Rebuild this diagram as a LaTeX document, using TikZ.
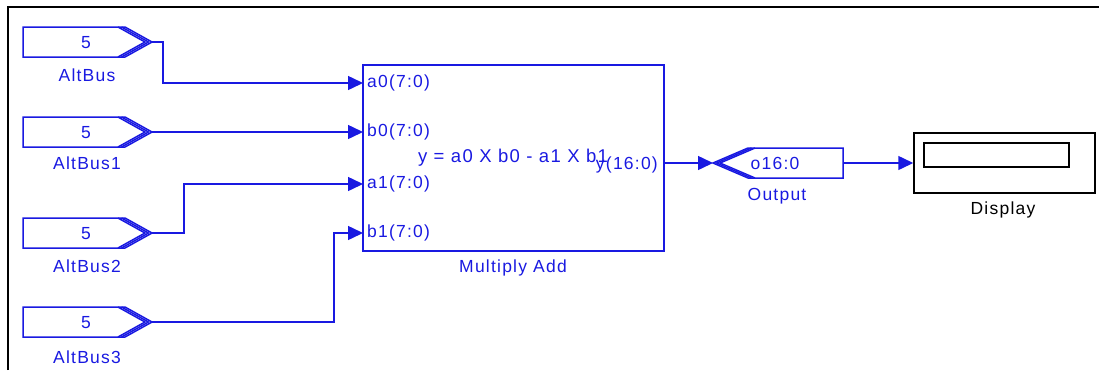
\documentclass[tikz,border=0pt]{standalone}
\usepackage{fontspec}
\setmainfont[LetterSpace=7]{Liberation Sans}
\usetikzlibrary{arrows.meta}
\definecolor{sb}{RGB}{25,25,225}
\tikzset{
  bl/.style={draw=sb, line width=1.5pt, line join=miter},
  wire/.style={draw=sb, line width=1.5pt, -{Triangle[length=15pt,width=14pt]}},
  txt/.style={font=\fontsize{17.5}{20}\selectfont, text=sb, inner sep=0pt},
  btxt/.style={font=\fontsize{17.5}{20}\selectfont, text=black, inner sep=0pt},
  busin/.pic={
    \draw[bl] (0,-15) -- (102,-15) -- (129,0) -- (102,15) -- (0,15) -- cycle;
    \draw[bl] (95,-15) -- (122,0) -- (95,15);
    \draw[bl] (98.5,-15) -- (125.5,0) -- (98.5,15);
    \coordinate (-tip) at (129,0);
    \node[txt] (-val) at (63,1) {5};
  },
  busout/.pic={
    \draw[bl] (0,-15) -- (-95,-15) -- (-130,0) -- (-95,15) -- (0,15) -- cycle;
    \draw[bl] (-88,-15) -- (-123,0) -- (-88,15);
    \draw[bl] (-91.5,-15) -- (-126.5,0) -- (-91.5,15);
    \coordinate (-tip) at (-130,0);
    \coordinate (-right) at (0,0);
    \node[txt] (-val) at (-68,0) {o16:0};
  }
}
\begin{document}
\begin{tikzpicture}[x=1pt,y=-1pt]
\useasboundingbox (0,0) rectangle (1099,370);
\draw[line width=2.5pt] (8,370) -- (8,7) -- (1099,7);

% input buses
\pic (b0) at (23,42) {busin};
\pic (b1) at (23,132) {busin};
\pic (b2) at (23,233) {busin};
\pic (b3) at (23,322) {busin};
\node[txt] (l0) at (87,75) {AltBus};
\node[txt] (l1) at (87,163) {AltBus1};
\node[txt] (l2) at (87,266) {AltBus2};
\node[txt] (l3) at (87,357) {AltBus3};

% multiply add block
\node[bl, minimum width=301pt, minimum height=186pt, inner sep=0pt] (ma) at (513.5,158) {};
\coordinate (pa0) at (363,83);
\coordinate (pb0) at (363,132);
\coordinate (pa1) at (363,184);
\coordinate (pb1) at (363,233);
\coordinate (py) at (664,163);
\node[txt, anchor=west] (ta0) at (367,83) {a0(7:0)};
\node[txt, anchor=west] (tb0) at (367,132) {b0(7:0)};
\node[txt, anchor=west] (ta1) at (367,184) {a1(7:0)};
\node[txt, anchor=west] (tb1) at (367,233) {b1(7:0)};
\node[txt, font=\fontsize{18.5}{20}\selectfont] (eq) at (513,158) {y = a0 X b0 - a1 X b1};
\node[txt, anchor=east] (ty) at (658,165) {y(16:0)};
\node[txt] (lma) at (513,268) {Multiply Add};

% output
\pic (out) at (843,163) {busout};
\node[txt] (lout) at (777,196) {Output};

% display
\node[draw=black, line width=1.5pt, minimum width=181pt, minimum height=60pt, inner sep=0pt] (disp) at (1004.5,163) {};
\node[draw=black, line width=1.5pt, minimum width=145pt, minimum height=24pt, inner sep=0pt] (dispin) at (996.5,155) {};
\node[btxt] (ldisp) at (1003,210) {Display};

% wires
\draw[wire] (b0-tip) -- ++(11,0) |- (pa0);
\draw[wire] (b1-tip) -- (pb0);
\draw[wire] (b2-tip) -- ++(32,0) |- (pa1);
\draw[wire] (b3-tip) -- ++(182,0) |- (pb1);
\draw[wire] (py) -- (out-tip);
\draw[wire] (out-right) -- (disp.west);
\end{tikzpicture}
\end{document}
